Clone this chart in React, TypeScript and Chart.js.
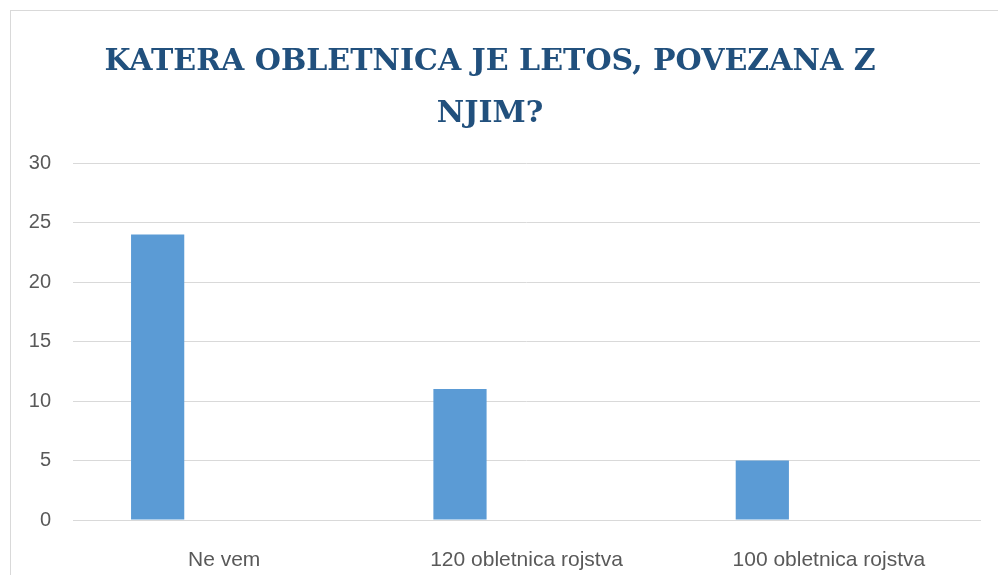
import React, { useEffect, useRef } from "react";
import { Chart, registerables } from "chart.js";

Chart.register(...registerables);

const categories = ["Ne vem", "120 obletnica rojstva", "100 obletnica rojstva"];
const seriesValues = [24, 11, 5];
const emptySeries = [null, null, null];
const titleLines = ["KATERA OBLETNICA JE LETOS, POVEZANA Z", "NJIM?"];
const yMin = 0;
const yMax = 30;
const yStep = 5;

export default function App() {
  const ref = useRef<HTMLCanvasElement | null>(null);

  useEffect(() => {
    const canvas = ref.current;
    if (!canvas) return;
    const chart = new Chart(canvas, {
      type: "bar",
      data: {
        labels: categories,
        datasets: [
          {
            label: "Odgovori",
            data: seriesValues,
            backgroundColor: "#5B9BD5",
            borderWidth: 0,
            categoryPercentage: 0.88,
            barPercentage: 0.4,
          },
          {
            label: "",
            data: emptySeries as any,
            backgroundColor: "#ED7D31",
            borderWidth: 0,
            categoryPercentage: 0.88,
            barPercentage: 0.4,
          },
        ],
      },
      options: {
        responsive: false,
        animation: false,
        maintainAspectRatio: false,
        layout: { padding: { left: 0, right: 18, top: 0, bottom: 0 } },
        plugins: {
          legend: { display: false },
          tooltip: { enabled: false },
          title: {
            display: true,
            text: titleLines,
            color: "#21507D",
            font: { family: "'DejaVu Serif', serif", size: 30, weight: "bold", lineHeight: 52 / 30 },
            padding: { top: 36, bottom: 23 },
          },
        },
        scales: {
          x: {
            grid: { display: false },
            border: { display: true, color: "#D9D9D9", width: 1 },
            ticks: {
              color: "#595959",
              font: { family: "'Liberation Sans', Arial, sans-serif", size: 21 },
              padding: 20,
              maxRotation: 0,
            },
            afterFit: (scale: any) => {
              scale.height = 55;
            },
          },
          y: {
            min: yMin,
            max: yMax,
            ticks: {
              stepSize: yStep,
              color: "#595959",
              font: { family: "'Liberation Sans', Arial, sans-serif", size: 20 },
              padding: 22,
            },
            grid: { color: "#D9D9D9", lineWidth: 1, drawTicks: false },
            border: { display: false },
            afterFit: (scale: any) => {
              scale.width = 73;
            },
          },
        },
      },
    });
    return () => chart.destroy();
  }, []);

  return (
    <div style={{ position: "fixed", left: 0, top: 0, width: 998, height: 575, background: "#fff" }}>
      <canvas ref={ref} width={998} height={575} style={{ position: "absolute", left: 0, top: 0, width: 998, height: 575 }} />
      <div
        style={{
          position: "absolute",
          left: 10,
          top: 10,
          width: 1000,
          height: 600,
          border: "1px solid #D9D9D9",
          pointerEvents: "none",
        }}
      />
    </div>
  );
}
